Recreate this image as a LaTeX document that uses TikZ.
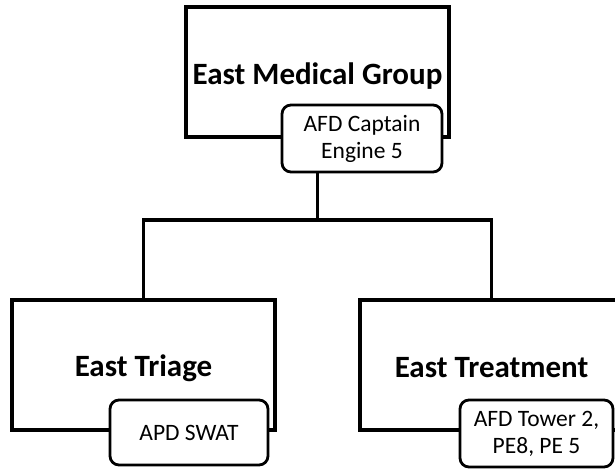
\documentclass[tikz,border=0pt]{standalone}
\usepackage{fontspec}
\setmainfont{Carlito}
\usepackage{tikz}
\usetikzlibrary{calc}
\usetikzlibrary{positioning}
\tikzset{inv/.style={opacity=0}}
\tikzset{group/.style={rectangle,draw=black,line width=3.2pt,fill=white,minimum width=263pt,minimum height=130pt,inner sep=0pt,font=\fontsize{31}{36}\selectfont\bfseries}}
\tikzset{unit/.style={rectangle,rounded corners=9pt,draw=black,line width=2.8pt,fill=white,inner sep=0pt,align=center,font=\fontsize{23.5}{27}\selectfont}}
\tikzset{link/.style={line width=3.2pt,black}}

\begin{document}
\begin{tikzpicture}[x=1pt,y=-1pt]
\useasboundingbox (0,0) rectangle (615,468);

 \node[group] (G) at (317.5, 72) {\raisebox{-4pt}[\height][\depth]{East Medical Group}};
 \node[group] (T) at (143.5, 365) {\raisebox{-3pt}[\height][\depth]{East Triage}};
 \node[group] (R) at (491.5, 365) {\raisebox{-3pt}[\height][\depth]{East Treatment}};

 \coordinate (S) at (317.5, 220);
 \draw[link] (G) -- (S);
 \draw[link] (S) -| (T.north);
 \draw[link] (S) -| (R.north);

 \node[unit, minimum width=160pt, minimum height=67pt] (GU) at (362, 138.5) {AFD Captain\\Engine 5};
 \node[unit, minimum width=158pt, minimum height=65pt] (TU) at (189, 432.5) {APD SWAT};
 \node[unit, minimum width=153pt, minimum height=67pt] (RU) at (536.5, 433.5) {AFD Tower 2,\\PE8, PE 5};

\end{tikzpicture}
\end{document}
